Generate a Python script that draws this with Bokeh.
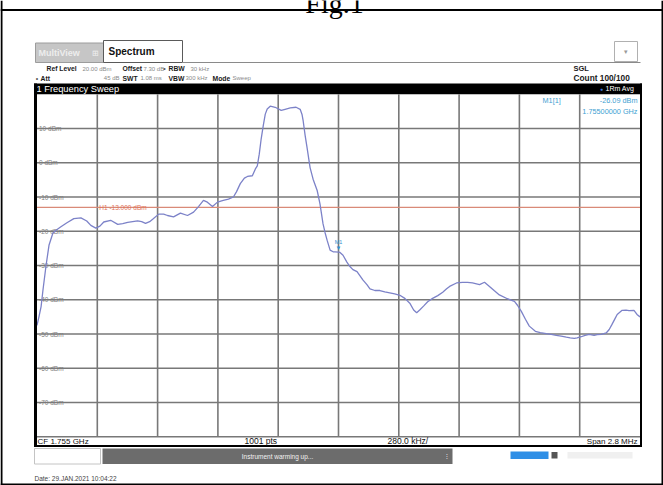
from bokeh.plotting import figure
from bokeh.models import Range1d
from bokeh.embed import file_html
from bokeh.resources import INLINE
from bokeh.core.properties import value

# ---------------- data ----------------
center_ghz = 1.755
span_mhz = 2.8
ref_level_dbm = 20.0
db_per_div = 10.0
n_points = 1001

# trace: offset from centre frequency (kHz) and level (dBm)
freq_offset_khz = [
    -1400, -1391, -1381, -1372, -1358, -1344, -1326, -1307, -1289, -1261,
    -1229, -1196, -1169, -1150, -1127, -1108, -1090, -1058, -1025, -1002,
    -979, -933, -914, -896, -877, -863, -835, -812, -794, -766,
    -734, -701, -673, -650, -627, -609, -585, -562, -535, -511,
    -488, -474, -456, -437, -423, -400, -386, -377, -368, -359,
    -349, -340, -331, -317, -294, -266, -248, -224, -197, -178,
    -169, -164, -155, -146, -132, -118, -99, -86, -72, -62,
    -53, -39, -25, -16, 0, 7, 21, 39, 53, 67,
    86, 100, 113, 132, 146, 169, 192, 215, 238, 261,
    285, 308, 331, 349, 363, 377, 396, 414, 437, 461,
    484, 502, 516, 548, 576, 599, 622, 655, 678, 701,
    724, 747, 784, 817, 831, 849, 868, 886, 914, 937,
    965, 988, 1011, 1034, 1058, 1076, 1095, 1108, 1127, 1145,
    1164, 1187, 1201, 1220, 1243, 1257, 1270, 1284, 1294, 1317,
    1335, 1349, 1372, 1386, 1400,
]
level_dbm = [
    -47.5, -45.0, -42.0, -37.0, -30.0, -24.0, -20.5, -19.5, -18.7, -17.5,
    -16.3, -16.1, -17.0, -18.3, -19.1, -18.5, -17.3, -16.8, -18.0, -17.8,
    -17.4, -17.0, -17.2, -17.7, -17.2, -16.5, -15.0, -15.0, -15.4, -15.8,
    -14.7, -15.4, -14.4, -12.8, -11.0, -11.5, -12.8, -11.5, -11.0, -10.6,
    -10.0, -8.5, -6.1, -4.5, -4.0, -3.8, -1.8, -0.9, 2.5, 7.0,
    11.0, 14.2, 15.7, 16.5, 16.2, 15.3, 15.6, 16.0, 16.2, 15.6,
    14.0, 12.2, 8.0, 4.4, -1.4, -4.8, -8.1, -12.0, -17.8, -20.5,
    -22.6, -25.5, -26.0, -26.0, -26.09, -26.2, -27.0, -29.0, -30.3, -31.2,
    -31.8, -33.0, -34.2, -35.6, -36.8, -37.3, -37.3, -37.7, -38.0, -38.3,
    -38.7, -39.6, -41.0, -43.0, -43.8, -43.0, -41.8, -40.6, -39.6, -38.8,
    -37.8, -36.8, -36.1, -35.1, -34.9, -34.9, -35.1, -35.6, -34.9, -36.1,
    -37.4, -38.6, -39.7, -40.5, -41.6, -43.4, -45.7, -47.7, -49.2, -49.6,
    -49.9, -50.1, -50.4, -50.6, -50.9, -51.1, -51.3, -51.1, -50.8, -50.4,
    -50.1, -50.4, -50.2, -50.1, -49.7, -48.7, -47.2, -45.5, -44.3, -43.1,
    -43.0, -43.2, -43.1, -44.3, -45.0,
]

marker_offset_khz = [0]
marker_level_dbm = [-26.09]
limit_line_dbm = -13.0

x_grid_khz = [-1120, -840, -560, -280, 0, 280, 560, 840, 1120]
y_grid_dbm = [10, 0, -10, -20, -30, -40, -50, -60, -70]
y_tick_labels = ["10 dBm", "0 dBm", "-10 dBm", "-20 dBm", "-30 dBm",
                 "-40 dBm", "-50 dBm", "-60 dBm", "-70 dBm"]

# ---------------- layout (reference pixel coordinates) ----------------
W, H = 663, 485
OFF = 0
PX0, PX1 = 36.5, 639.5      # plot area left/right
PY0, PY1 = 93.75, 436.25    # plot area top/bottom
half_span = span_mhz * 1000 / 2
bottom_dbm = ref_level_dbm - 10 * db_per_div
kpp = 2 * half_span / (PX1 - PX0)
dpp = (ref_level_dbm - bottom_dbm) / (PY1 - PY0)

x_range = Range1d(-half_span - (PX0 - OFF) * kpp, half_span + (OFF + W - PX1) * kpp)
y_range = Range1d(bottom_dbm - (OFF + H - PY1) * dpp, ref_level_dbm + (PY0 - OFF) * dpp)

p = figure(width=W, height=H, x_range=x_range, y_range=y_range,
           x_axis_type=None, y_axis_type=None, output_backend="svg",
           toolbar_location=None, min_border=0, outline_line_color=None,
           background_fill_color="white", border_fill_color="white")
p.extra_x_ranges = {"px": Range1d(OFF, OFF + W)}
p.extra_y_ranges = {"px": Range1d(OFF + H, OFF)}
PXR = dict(x_range_name="px", y_range_name="px")
FONT = value("Liberation Sans")


def box(l, r, t, b, fill, line=None, lw=1.0):
    p.quad(left=[l], right=[r], top=[t], bottom=[b], fill_color=fill,
           line_color=line, line_width=lw, **PXR)


def txt(x, y, s, size="7.5px", color="#222222", bold=False, align="left",
        font=FONT, baseline="middle"):
    p.text(x=[x], y=[y], text=[s], text_font=font, text_font_size=size,
           text_color=color, text_baseline=baseline, text_align=align,
           text_font_style="bold" if bold else "normal", **PXR)


# outer document frame and title (title is cut by the page edge, as in the source)
txt(334, 3, "Fig.1", "28px", "black", align="center",
    font=value("Liberation Serif"), baseline="alphabetic")
box(0, 663, 8.5, 10.5, "black")
box(0, 2, 0, 485, "black")
box(661, 663, 0, 485, "black")
box(0, 663, 483, 485, "black")

# tabs
box(35, 103, 42.5, 62, "#c6c6c6", "#9c9c9c")
txt(38, 52.5, "MultiView", "9px", "#ededed", bold=True)
txt(91, 52.5, "⊞", "8px", "#f0f0f0")
box(103, 182, 40, 62, "white", "#5a5a5a")
txt(108, 50.5, "Spectrum", "10px", "#111111", bold=True)
p.segment(x0=[182], y0=[62], x1=[640], y1=[62], line_color="#8a8a8a", line_width=1, **PXR)
box(614, 637, 41, 61, "white", "#b0b0b0")
txt(625.5, 51, "▾", "7px", "#999999", align="center")

# instrument settings rows
LB, LV = "6.8px", "6px"
for x, s in [(46, "Ref Level"), (122, "Offset"), (168, "RBW")]:
    txt(x, 68, s, LB, "#1a1a1a", bold=True)
for x, s in [(82, f"{ref_level_dbm:.2f} dBm"), (143, "7.30 dB"), (190, "30 kHz")]:
    txt(x, 68, s, LV, "#8a8a8a")
for x, s in [(40, "Att"), (122, "SWT"), (168, "VBW"), (212, "Mode")]:
    txt(x, 77.5, s, LB, "#1a1a1a", bold=True)
for x, s in [(140, "1.08 ms"), (185, "300 kHz"), (232, "Sweep")]:
    txt(x, 77.5, s, LV, "#8a8a8a")
txt(119, 77.5, "45 dB", LV, "#8a8a8a", align="right")
txt(164, 68, "•", "7px", "#555555", align="center")
txt(36.5, 77.5, "•", "7px", "#555555", align="center")
txt(573, 68, "SGL", "7.5px", "#1a1a1a", bold=True)
txt(573, 77.5, "Count 100/100", "8.3px", "#1a1a1a", bold=True)

# header bar
box(33.5, 641.5, 83, PY0, "black")
txt(36, 88.3, "1 Frequency Sweep", "9.3px", "white")
txt(601, 88.3, "●", "5px", "#3a7be0", align="center")
txt(605, 88.3, "1Rm Avg", "7px", "white")

# grid (data coordinates)
p.segment(x0=x_grid_khz, y0=[bottom_dbm] * len(x_grid_khz),
          x1=x_grid_khz, y1=[ref_level_dbm] * len(x_grid_khz),
          line_color="#787878", line_width=1.6)
p.segment(x0=[-half_span] * len(y_grid_dbm), y0=y_grid_dbm,
          x1=[half_span] * len(y_grid_dbm), y1=y_grid_dbm,
          line_color="#787878", line_width=1.6)
p.segment(x0=[-half_span], y0=[bottom_dbm], x1=[half_span], y1=[bottom_dbm],
          line_color="#787878", line_width=1.6)
p.text(x=[-half_span] * len(y_grid_dbm), y=y_grid_dbm, text=y_tick_labels,
       x_offset=2, text_font=FONT, text_font_size="6.5px", text_color="#808080",
       text_baseline="middle")

# limit line H1
p.segment(x0=[-half_span], y0=[limit_line_dbm], x1=[half_span], y1=[limit_line_dbm],
          line_color="#d98a78", line_width=1.2)
p.text(x=[x_grid_khz[0]], y=[limit_line_dbm], text=[f"H1  {limit_line_dbm:.3f} dBm"],
       x_offset=2, text_font=FONT, text_font_size="6.5px", text_color="#e0735a",
       text_baseline="middle")

# trace
p.line(freq_offset_khz, level_dbm, line_color="#7c82c8", line_width=1.3)

# marker
p.text(x=marker_offset_khz, y=marker_level_dbm, text=["▼"], y_offset=-1,
       text_font=FONT, text_font_size="6px", text_color="#2f8fd0",
       text_align="center", text_baseline="bottom")
p.text(x=marker_offset_khz, y=marker_level_dbm, text=["M1"], y_offset=-7,
       text_font=FONT, text_font_size="5.5px", text_color="#2f8fd0",
       text_align="center", text_baseline="bottom")
MC = "#3f9fd2"
txt(542, 100, "M1[1]", "7.3px", MC)
txt(637, 100, f"{marker_level_dbm[0]:.2f} dBm", "7.3px", MC, align="right")
txt(637, 111, f"{center_ghz + marker_offset_khz[0] * 1e-6:.8f} GHz", "7.3px", MC, align="right")

# plot frame borders
box(33.5, 36.5, 83, 446.5, "black")
box(639.5, 641.5, 83, 446.5, "black")
box(33.5, 641.5, 444.5, 446.5, "black")

# footer
txt(37, 440.5, f"CF {center_ghz} GHz", "8px", "#111111")
txt(244, 440.5, f"{n_points} pts", "8.5px", "#111111")
txt(387, 440.5, f"{span_mhz * 1000 / 10:.1f} kHz/", "8.5px", "#111111")
txt(637, 440.5, f"Span {span_mhz} MHz", "8px", "#111111", align="right")

# status bar
box(34, 100, 448, 463.5, "white", "#c4c4c4")
box(102, 452, 448, 463.5, "#6c6c6c")
txt(277, 455.8, "Instrument warming up...", "6.5px", "#f2f2f2", align="center")
txt(446, 455.8, "⁝", "7px", "#f2f2f2", align="center")
box(510, 548, 451, 458.5, "#2f8fe6")
box(551, 557, 451.5, 458, "#555555")
box(567, 632, 451.5, 458, "#f0f0f0")

# date line
txt(34, 478, "Date: 29.JAN.2021  10:04:22", "6.5px", "#444444")

open("out.html", "w").write(file_html(p, INLINE))
